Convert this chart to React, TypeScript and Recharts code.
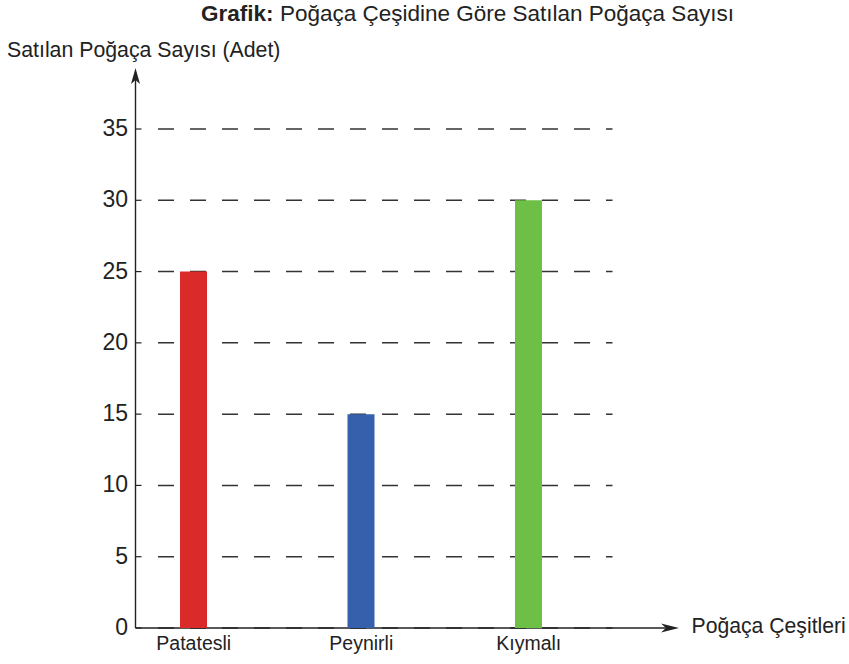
import { BarChart, Bar, XAxis, YAxis, CartesianGrid, Cell, Customized, usePlotArea } from 'recharts'

const categories = ['Patatesli', 'Peynirli', 'Kıymalı']
const counts = [25, 15, 30]
const yTicks = [0, 5, 10, 15, 20, 25, 30, 35]

const barColors = ['#da2a2a', '#3660ab', '#6dbf45']

const data = categories.map((name, i) => ({ name, count: counts[i] }))

const FONT = '"Liberation Sans", Arial, sans-serif'
const INK = '#222'
// the drawn y axis sits a little right of the plot's left edge
const AXIS_SHIFT = 25.5

function YTick(p: any) {
  return (
    <text
      x={p.x + AXIS_SHIFT - 7.5}
      y={p.y}
      dy={-1}
      textAnchor="end"
      dominantBaseline="central"
      fontSize={23}
      fontFamily={FONT}
      fill={INK}
    >
      {p.payload.value}
    </text>
  )
}

function GridLine(p: any) {
  const ax = p.x1 + AXIS_SHIFT
  return (
    <g key={p.key}>
      <line x1={ax} y1={p.y1} x2={ax + 6} y2={p.y1} stroke={INK} strokeWidth={1.2} />
      <line x1={ax + 22.5} y1={p.y1} x2={p.x2} y2={p.y1} stroke="#333" strokeWidth={1.5} strokeDasharray="16 16" />
    </g>
  )
}

function Overlay() {
  const plot = usePlotArea()
  if (!plot) return null
  const ax = plot.x + AXIS_SHIFT
  const bottom = plot.y + plot.height
  const yTip = 68
  const xTip = plot.x + plot.width + 66.5
  return (
    <g>
      <line x1={ax} y1={bottom} x2={ax} y2={yTip + 10} stroke={INK} strokeWidth={1.4} />
      <path d={`M${ax},${yTip} L${ax + 4.5},${yTip + 16} L${ax},${yTip + 12} L${ax - 4.5},${yTip + 16} Z`} fill={INK} />
      <line x1={ax} y1={bottom} x2={xTip - 10} y2={bottom} stroke={INK} strokeWidth={1.4} />
      <path d={`M${xTip},${bottom} L${xTip - 18},${bottom - 4.5} L${xTip - 13},${bottom} L${xTip - 18},${bottom + 4.5} Z`} fill={INK} />
      <text x={467.5} y={21} textAnchor="middle" fontSize={22.5} fontFamily={FONT} fill={INK}>
        <tspan fontWeight="bold">Grafik:</tspan> Poğaça Çeşidine Göre Satılan Poğaça Sayısı
      </text>
      <text x={7} y={57} fontSize={21.3} fontFamily={FONT} fill={INK}>
        Satılan Poğaça Sayısı (Adet)
      </text>
      <text x={691.5} y={633} fontSize={21.2} fontFamily={FONT} fill={INK}>
        Poğaça Çeşitleri
      </text>
    </g>
  )
}

export default function App() {
  return (
    <div style={{ position: 'absolute', left: 0, top: 0, background: '#fff' }}>
      <BarChart width={849} height={664} data={data} margin={{ top: 129, right: 236.5, bottom: 6, left: 0 }}>
        <CartesianGrid vertical={false} horizontal={GridLine} />
        <XAxis
          dataKey="name"
          axisLine={false}
          tickLine={false}
          interval={0}
          height={30}
          tick={{ fontSize: 19.5, fill: INK, fontFamily: FONT }}
        />
        <YAxis
          width={110}
          domain={[0, 35]}
          ticks={yTicks}
          axisLine={false}
          tickLine={false}
          tickSize={0}
          tickMargin={0}
          tick={YTick}
        />
        <Bar dataKey="count" barSize={27} isAnimationActive={false}>
          {data.map((d, i) => (
            <Cell key={d.name} fill={barColors[i]} />
          ))}
        </Bar>
        <Customized component={Overlay} />
      </BarChart>
    </div>
  )
}
